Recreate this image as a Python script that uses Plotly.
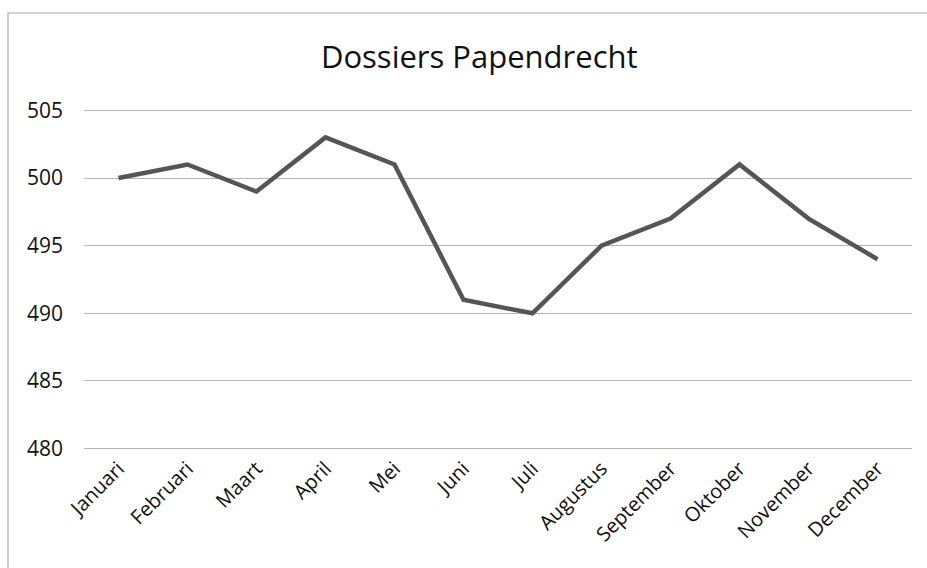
import plotly.graph_objects as go

months = ["Januari", "Februari", "Maart", "April", "Mei", "Juni", "Juli",
          "Augustus", "September", "Oktober", "November", "December"]
dossiers = [500, 501, 499, 503, 501, 491, 490, 495, 497, 501, 497, 494]
y_ticks = [480, 485, 490, 495, 500, 505]

FONT = "Open Sans, sans-serif"

fig = go.Figure()
fig.add_trace(go.Scatter(
    x=months, y=dossiers, mode="lines",
    line=dict(color="#555555", width=4.5),
    hoverinfo="x+y", showlegend=False,
))

fig.update_layout(
    width=927, height=568,
    margin=dict(l=84, r=15, t=109, b=118, autoexpand=False),
    paper_bgcolor="white", plot_bgcolor="white",
    title=dict(text="Dossiers Papendrecht", x=0.517, xanchor="center",
               y=1 - 57 / 568, yanchor="middle", yref="container",
               font=dict(family=FONT, size=31, color="#111111")),
    xaxis=dict(type="category", range=[-0.5, 11.5], tickangle=-45,
               showgrid=False, showline=False, zeroline=False, ticks="",
               ticklabelstandoff=2,
               tickfont=dict(family=FONT, size=20, color="#111111")),
    yaxis=dict(range=[479.9, 505.1], tickvals=y_ticks, showgrid=True,
               gridcolor="#b5b5b5", gridwidth=1.2, zeroline=False,
               showline=False, ticks="", ticklabelstandoff=20,
               tickfont=dict(family=FONT, size=21, color="#111111")),
    shapes=[dict(type="rect", xref="paper", yref="paper",
                 x0=(8 - 84) / 828, x1=1.05,
                 y0=-0.5, y1=(450 - 13) / 341,
                 line=dict(color="#aaaaaa", width=1.2), layer="below")],
)

fig.write_html("out.html", config={"displayModeBar": False},
               post_script="document.body.style.margin='0px';document.body.style.padding='0px';")
